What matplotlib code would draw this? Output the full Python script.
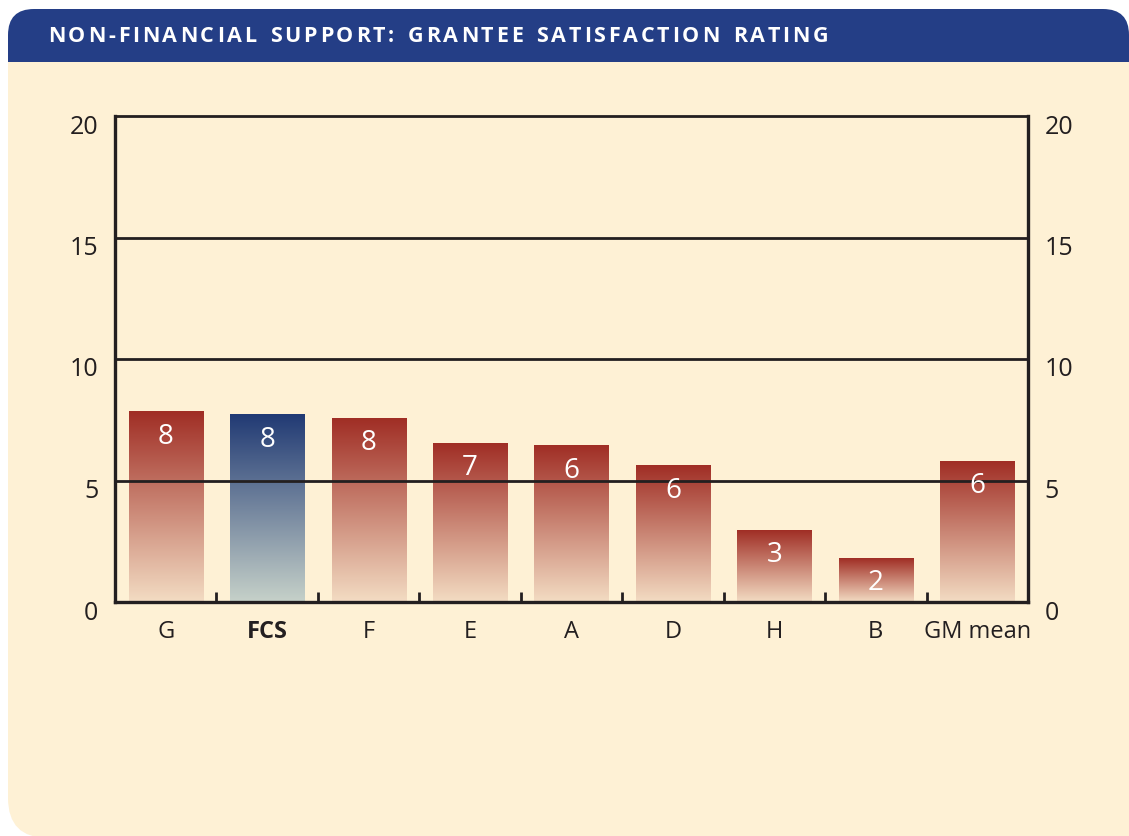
import numpy as np
import matplotlib
matplotlib.use('Agg')
import matplotlib.pyplot as plt
from matplotlib.colors import LinearSegmentedColormap
from matplotlib.patches import FancyBboxPatch, Rectangle
from matplotlib.transforms import ScaledTranslation

plt.rcParams['font.family'] = ['Open Sans', 'DejaVu Sans']

# data
categories = ['G', 'FCS', 'F', 'E', 'A', 'D', 'H', 'B', 'GM mean']
scores = [7.82, 7.70, 7.57, 6.54, 6.42, 5.60, 2.96, 1.81, 5.80]
highlight = 'FCS'
yticks = [0, 5, 10, 15, 20]
title = 'NON-FINANCIAL SUPPORT: GRANTEE SATISFACTION RATING'

ink = '#231F20'
cream = '#FEF1D5'
navy = '#243E86'
red_cmap = LinearSegmentedColormap.from_list('red', ['#F3DCC3', '#A02E25'])
blue_cmap = LinearSegmentedColormap.from_list('blue', ['#C6D1C9', '#213A74'])

W, H = 1129, 836
fig = plt.figure(figsize=(W / 100, H / 100), dpi=100, facecolor='white')

# background panel, pixel coordinates
bg = fig.add_axes([0, 0, 1, 1], zorder=0)
bg.set_xlim(0, W)
bg.set_ylim(H, 0)
bg.axis('off')
bg.add_patch(FancyBboxPatch((8, 30), 1300, 808, boxstyle='round,pad=0,rounding_size=40',
                            fc=cream, ec='none'))
bg.add_patch(FancyBboxPatch((8, 9), W - 8, 110, boxstyle='round,pad=0,rounding_size=26',
                            fc=navy, ec='none'))
bg.add_patch(Rectangle((8, 62), 1300, 70, fc=cream, ec='none'))

# letter-spaced title
renderer = fig.canvas.get_renderer()
tkw = dict(color='white', fontsize=15.5, fontweight='bold', va='center', ha='left')
widths = []
for ch in title:
    if ch == ' ':
        widths.append(8)
    else:
        t = bg.text(0, 0, ch, **tkw)
        widths.append(t.get_window_extent(renderer).width)
        t.remove()
x0, x1 = 48, 828
track = (x1 - x0 - sum(widths)) / (len(title) - 1)
cursor = x0
for ch, w in zip(title, widths):
    if ch != ' ':
        bg.text(cursor, 36, ch, **tkw)
    cursor += w + track

# chart
ax = fig.add_axes([115 / W, 1 - 602 / H, (1028 - 115) / W, (602 - 116) / H], zorder=1)
ax.set_facecolor('none')

bar_w = 0.73
grad = np.linspace(1, 0, 256).reshape(-1, 1)
for i, (cat, v) in enumerate(zip(categories, scores)):
    cmap = blue_cmap if cat == highlight else red_cmap
    ax.imshow(grad, extent=[i - bar_w / 2, i + bar_w / 2, 0, v], aspect='auto',
              cmap=cmap, vmin=0, vmax=1, zorder=2, interpolation='bilinear')
    ax.annotate(str(round(v)), (i, v), xytext=(0, -18), textcoords='offset points',
                ha='center', va='center', color='white', fontsize=20, zorder=5)

for y in yticks[1:-1]:
    ax.axhline(y, color=ink, lw=2, zorder=3)

ax.set_xlim(-0.5, len(categories) - 0.5)
ax.set_ylim(yticks[0], yticks[-1])

for s in ax.spines.values():
    s.set_color(ink)
    s.set_linewidth(2.4)
    s.set_zorder(4)
ax.spines['top'].set_linewidth(2)

ax.set_xticks(range(len(categories)))
ax.set_xticklabels(categories)
ax.set_xticks(np.arange(0.5, len(categories) - 1, 1), minor=True)
ax.tick_params(axis='x', which='major', length=0, pad=13, labelsize=17, labelcolor=ink)
ax.tick_params(axis='x', which='minor', direction='in', length=7, width=2, color=ink)
ax.get_xticklabels()[categories.index(highlight)].set_fontweight('bold')

ax.set_yticks(yticks)
ax.tick_params(axis='y', length=0, labelsize=18, labelcolor=ink,
               labelleft=True, labelright=True, pad=12)

shift = ScaledTranslation(0, -0.08, fig.dpi_scale_trans)
for tk in ax.yaxis.get_major_ticks():
    tk.label1.set_transform(tk.label1.get_transform() + shift)
    tk.label2.set_transform(tk.label2.get_transform() + shift)

fig.savefig('out.png', dpi=100, facecolor='white')
